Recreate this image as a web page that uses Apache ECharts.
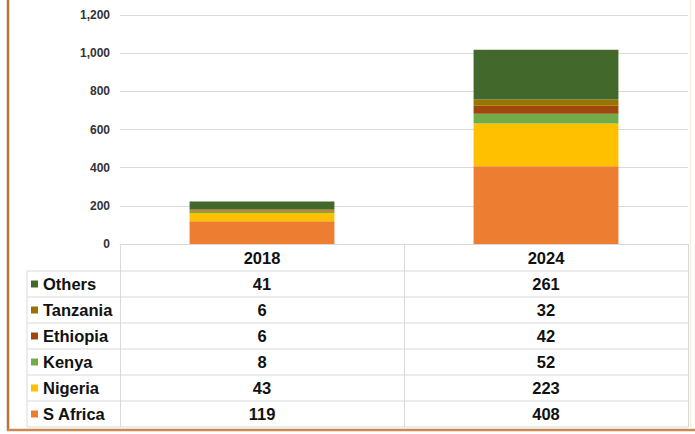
<!DOCTYPE html>
<html>
<head>
<meta charset="utf-8">
<script src="https://cdn.jsdelivr.net/npm/echarts@6/dist/echarts.min.js"></script>
<style>
html,body{margin:0;padding:0;background:#fff;}
#chart{width:695px;height:434px;}
</style>
</head>
<body>
<div id="chart"></div>
<script>
// Data
var categories = ['2018', '2024'];
var seriesNames = ['S Africa', 'Nigeria', 'Kenya', 'Ethiopia', 'Tanzania', 'Others'];
var sAfrica = [119, 408];
var nigeria = [43, 223];
var kenya = [8, 52];
var ethiopia = [6, 42];
var tanzania = [6, 32];
var others = [41, 261];
var yTicks = [0, 200, 400, 600, 800, 1000, 1200];

var seriesValues = [sAfrica, nigeria, kenya, ethiopia, tanzania, others];
var colors = ['#ED7D31', '#FFC000', '#70AD47', '#9E480E', '#997300', '#43682B'];

// table layout (styling only)
var gridLeft = 120, gridRight = 688, axisY = 244;
var headerBottom = 271, rowH = 26, tableLeft = 27;
var nRows = seriesNames.length;
var lineColor = '#d9d9d9';

var graphics = [];
for (var i = 0; i <= nRows; i++) {
  var y = headerBottom + i * rowH;
  graphics.push({type: 'line', shape: {x1: tableLeft, y1: y, x2: gridRight, y2: y},
    style: {stroke: lineColor, lineWidth: 1}, silent: true});
}
graphics.push({type: 'line', shape: {x1: tableLeft, y1: headerBottom, x2: tableLeft, y2: headerBottom + nRows * rowH},
  style: {stroke: lineColor, lineWidth: 1}, silent: true});
// frame
graphics.push({type: 'line', shape: {x1: 8, y1: 0, x2: 8, y2: 431}, style: {stroke: '#B8743A', lineWidth: 2.5}, silent: true});
graphics.push({type: 'line', shape: {x1: 7, y1: 430, x2: 695, y2: 430}, style: {stroke: '#C98A52', lineWidth: 2.5}, silent: true});
graphics.push({type: 'line', shape: {x1: 690.5, y1: 0, x2: 690.5, y2: 429}, style: {stroke: '#FBEEDD', lineWidth: 1.5}, silent: true});

var rich = {
  h: {fontFamily: 'Liberation Sans, Arial', fontWeight: 'bold', fontSize: 16.5, color: '#111', lineHeight: 27, align: 'center'},
  v: {fontFamily: 'Liberation Sans, Arial', fontWeight: 'bold', fontSize: 16.5, color: '#111', lineHeight: rowH, align: 'center'}
};

var series = seriesNames.map(function (name, i) {
  return {
    name: name, type: 'bar', stack: 'total', data: seriesValues[i],
    barCategoryGap: '49%',
    itemStyle: {color: colors[i]}
  };
});

var chart = echarts.init(document.getElementById('chart'), null, {renderer: 'svg'});
chart.setOption({
  animation: false,
  backgroundColor: '#fff',
  grid: {left: gridLeft, right: 695 - gridRight, top: 15, bottom: 434 - axisY, containLabel: false},
  legend: {
    orient: 'vertical', left: 31, top: headerBottom, padding: 0, itemGap: 0,
    itemWidth: 7, itemHeight: 7, icon: 'rect',
    data: seriesNames.slice().reverse(),
    textStyle: {fontFamily: 'Liberation Sans, Arial', fontWeight: 'bold', fontSize: 16.5, color: '#111', lineHeight: rowH},
    selectedMode: false
  },
  xAxis: {
    type: 'category', data: categories,
    axisLine: {show: true, lineStyle: {color: lineColor, width: 1}},
    axisTick: {show: true, length: headerBottom + nRows * rowH - axisY, lineStyle: {color: lineColor}},
    axisLabel: {
      margin: 0, interval: 0,
      formatter: function (val, idx) {
        var s = '{h|' + val + '}';
        for (var k = nRows - 1; k >= 0; k--) s += '\n{v|' + seriesValues[k][idx] + '}';
        return s;
      },
      rich: rich
    }
  },
  yAxis: {
    type: 'value', min: yTicks[0], max: yTicks[yTicks.length - 1], interval: yTicks[1] - yTicks[0],
    axisLine: {show: false}, axisTick: {show: false},
    splitLine: {lineStyle: {color: lineColor, width: 1}},
    axisLabel: {
      margin: 10, color: '#333', fontFamily: 'Liberation Sans, Arial', fontWeight: 'bold', fontSize: 12,
      formatter: function (v) { return String(v).replace(/\B(?=(\d{3})+(?!\d))/g, ','); }
    }
  },
  graphic: graphics,
  series: series
});
</script>
</body>
</html>
